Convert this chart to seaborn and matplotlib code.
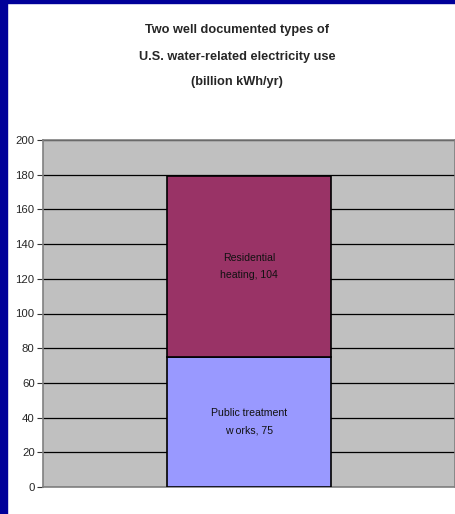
import matplotlib
matplotlib.use("Agg")
import matplotlib.pyplot as plt
import seaborn as sns
import pandas as pd
import numpy as np
from matplotlib.patches import Rectangle

categories = ["U.S."]
series_names = ["Public treatment\nw orks, 75", "Residential\nheating, 104"]
series_values = [75, 104]
series_colors = ["#9999FF", "#993366"]
yticks = [0, 20, 40, 60, 80, 100, 120, 140, 160, 180, 200]
title_lines = ["Two well documented types of",
               "U.S. water-related electricity use",
               "(billion kWh/yr)"]

sns.set_style("white")
plt.rcParams['font.family'] = ["Liberation Sans", "DejaVu Sans"]

W, H = 456, 514
fig = plt.figure(figsize=(W / 100, H / 100), dpi=100)
fig.patch.set_facecolor("white")

fig.add_artist(Rectangle((0, 0), 7 / W, 1, transform=fig.transFigure, color="#000099", zorder=0))
fig.add_artist(Rectangle((0, 1 - 3 / H), 1, 3 / H, transform=fig.transFigure, color="#000099", zorder=0))

left, right = 43, 455
top, bottom = 140, 487
ax = fig.add_axes([left / W, 1 - bottom / H, (right - left) / W, (bottom - top) / H])
ax.set_facecolor("#C0C0C0")

df = pd.DataFrame({"cat": categories * len(series_values),
                   "series": series_names,
                   "value": series_values})
bottoms = np.cumsum([0] + series_values[:-1])
for i, (name, val, col) in enumerate(zip(series_names, series_values, series_colors)):
    sub = df[df["series"] == name]
    sns.barplot(data=sub, x="cat", y="value", color=col, width=0.4, ax=ax,
                bottom=bottoms[i], edgecolor="black", linewidth=1.2, saturation=1, zorder=3)
    ax.text(0, bottoms[i] + val / 2, name, ha="center", va="center",
            fontsize=7.6, color="#111111", linespacing=1.95, zorder=4)

ax.set_xlim(-0.5, 0.5)
ax.set_ylim(0, 200)
ax.set_yticks(yticks)
ax.set_yticklabels([str(t) for t in yticks], fontsize=8.2)
ax.set_xticks([])
ax.set_xlabel("")
ax.set_ylabel("")
ax.grid(axis="y", color="black", linewidth=0.9, zorder=1)
ax.set_axisbelow(True)
ax.tick_params(axis="y", length=4, width=0.8, color="#333333", pad=2, left=True)
for s in ax.spines.values():
    s.set_color("#808080")
    s.set_linewidth(1.2)

for y, t in zip([30, 57, 82], title_lines):
    fig.text(237 / W, 1 - y / H, t, ha="center", va="center",
             fontsize=9.2, fontweight="bold")

fig.savefig("out.png", dpi=100, facecolor=fig.get_facecolor())
